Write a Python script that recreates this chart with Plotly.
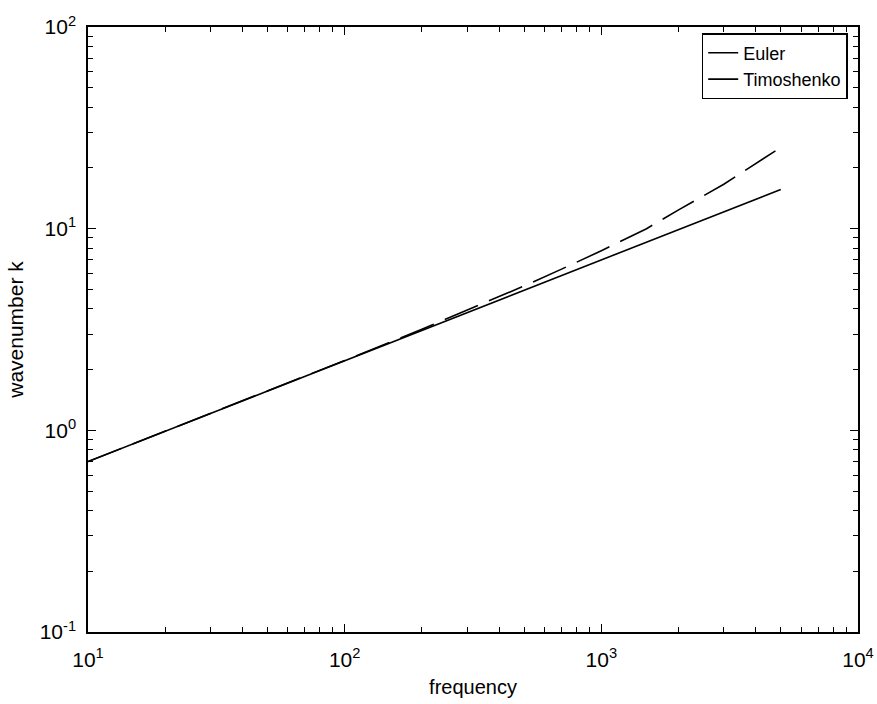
import plotly.graph_objects as go

# Data
frequency = [10, 20, 50, 100, 200, 300, 500, 700, 1000, 1500, 2000, 3000, 4000, 5000]
k_euler = [0.70, 0.99, 1.57, 2.22, 3.17, 3.93, 5.20, 6.30, 7.77, 10.0, 12.4, 16.6, 21.0, 25.3]
k_timoshenko = [0.70, 0.99, 1.57, 2.21, 3.13, 3.83, 4.95, 5.86, 7.00, 8.57, 9.90, 12.12, 14.0, 15.65]

x_tickvals = [10, 100, 1000, 10000]
x_ticktext = ["10<sup>1</sup>", "10<sup>2</sup>", "10<sup>3</sup>", "10<sup>4</sup>"]
y_tickvals = [0.1, 1, 10, 100]
y_ticktext = ["10<sup>-1</sup>", "10<sup>0</sup>", "10<sup>1</sup>", "10<sup>2</sup>"]

FONT = "Liberation Sans, Arial, Helvetica, sans-serif"

fig = go.Figure()
fig.add_trace(go.Scatter(x=frequency, y=k_euler, mode="lines", name="Euler",
                         line=dict(color="black", width=1.6, dash="36px,12px")))
fig.add_trace(go.Scatter(x=frequency, y=k_timoshenko, mode="lines", name="Timoshenko",
                         line=dict(color="black", width=1.6)))

def minor_vals(lo, hi):
    vals = []
    d = lo
    while d < hi:
        for m in range(2, 10):
            vals.append(m * d)
        d *= 10
    return vals

axis_common = dict(
    type="log", showline=True, linecolor="black", linewidth=1.5, mirror="allticks",
    ticks="inside", ticklen=8, tickwidth=1.2, tickcolor="black", showgrid=False,
    zeroline=False, tickfont=dict(family=FONT, size=21, color="black"),
    ticklabeloverflow="allow", automargin=False,
)

fig.update_xaxes(**axis_common, range=[1, 4], tickmode="array",
                 tickvals=x_tickvals, ticktext=x_ticktext, ticklabelstandoff=8,
                 minor=dict(tickmode="array", tickvals=minor_vals(10, 10000),
                            ticks="inside", ticklen=5, tickcolor="black", showgrid=False),
                 title=dict(text="frequency", font=dict(family=FONT, size=20, color="black"),
                            standoff=10))
fig.update_yaxes(**axis_common, range=[-1, 2], tickmode="array",
                 tickvals=y_tickvals, ticktext=y_ticktext, ticklabelstandoff=6,
                 minor=dict(tickmode="array", tickvals=minor_vals(0.1, 100),
                            ticks="inside", ticklen=5, tickcolor="black", showgrid=False),
                 title=dict(text="wavenumber k", font=dict(family=FONT, size=21, color="black"),
                            standoff=10))

fig.update_layout(
    width=877, height=704,
    margin=dict(l=88, r=19, t=27, b=72),
    paper_bgcolor="white", plot_bgcolor="white",
    showlegend=True,
    legend=dict(x=0.797, y=0.99, xanchor="left", yanchor="top",
                bgcolor="white", bordercolor="black", borderwidth=1.5,
                font=dict(family=FONT, size=18, color="black"),
                itemwidth=30, tracegroupgap=0),
)

fig.write_html("out.html")
